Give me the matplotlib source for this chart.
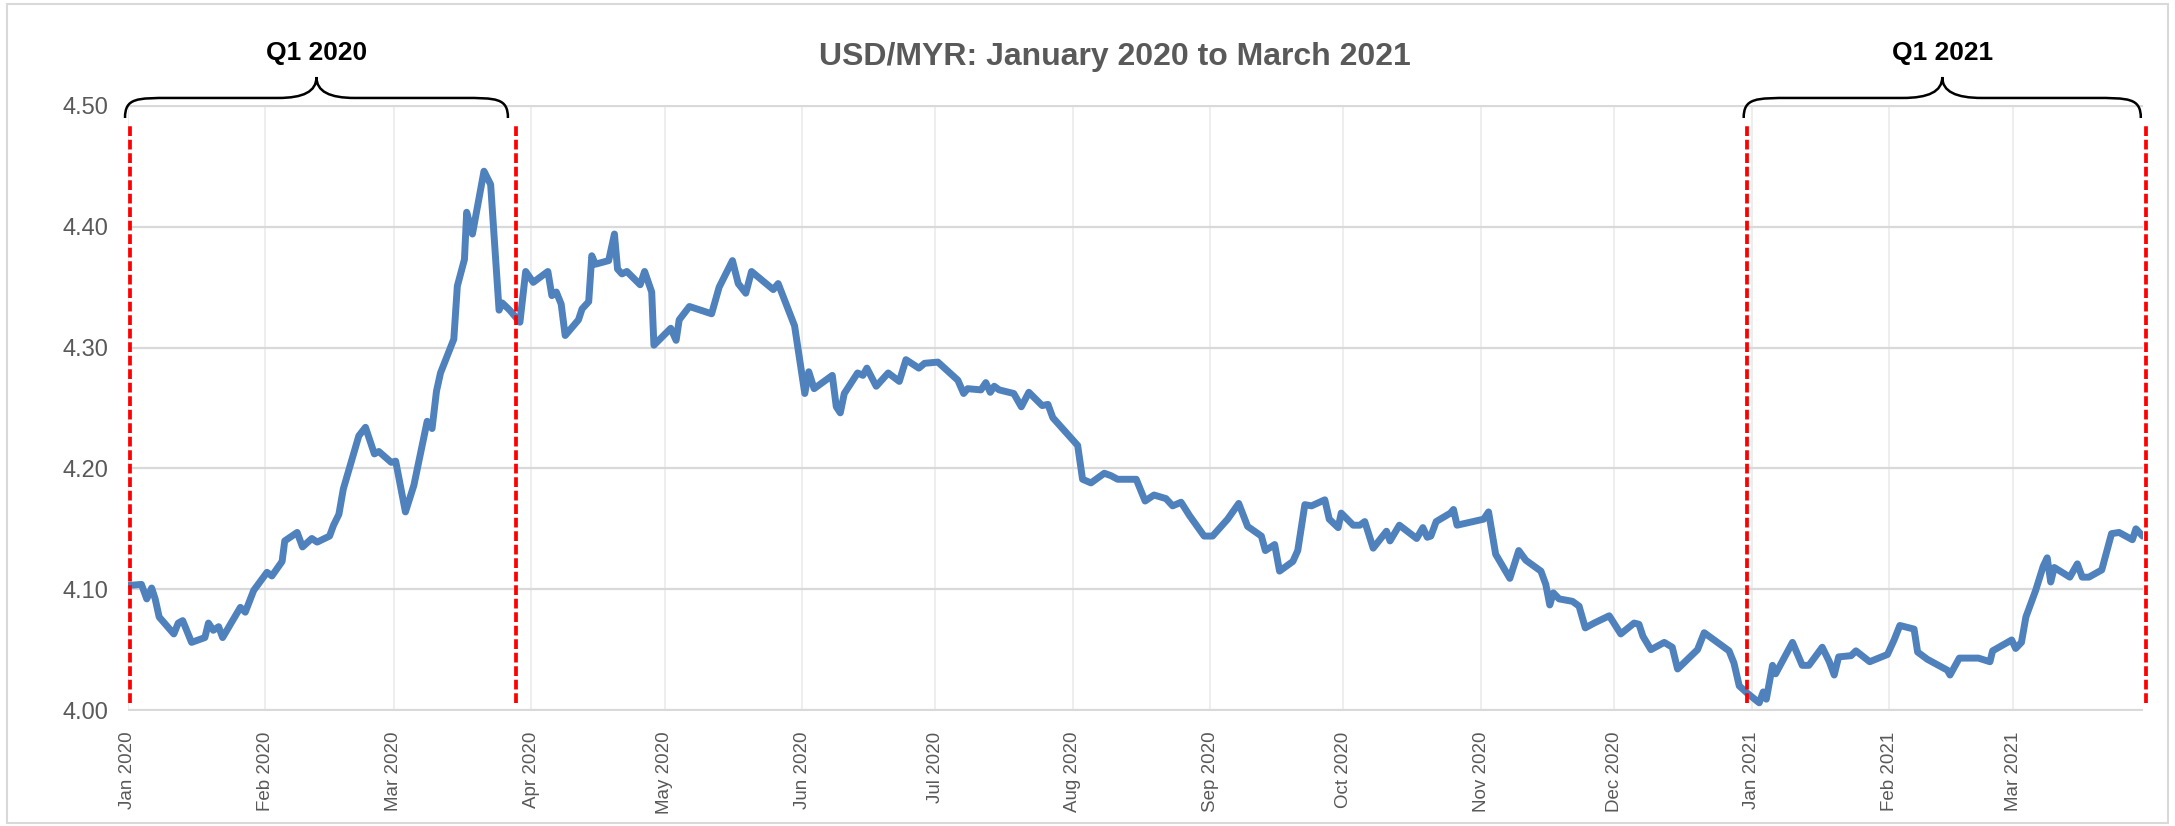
import numpy as np
import matplotlib
matplotlib.use("Agg")
import matplotlib.pyplot as plt
import matplotlib.dates as mdates
import matplotlib.transforms as mtransforms
from matplotlib.path import Path
from matplotlib.patches import PathPatch, Rectangle

# USD/MYR rate: days since 2020-01-01 and rate
day = [0.0, 3.1, 4.3, 5.4, 6.2, 7.1, 10.4, 11.4, 12.4, 14.4, 17.4, 18.2, 19.3, 20.5, 21.4,
       25.4, 26.5, 28.4, 31.4, 32.5, 34.8, 35.4, 38.2, 39.4, 41.5, 42.7, 45.5, 46.4, 47.6,
       48.6, 50.2, 52.1, 53.6, 55.6, 56.6, 59.4, 60.4, 62.6, 64.5, 67.5, 68.6, 69.6, 70.5,
       73.5, 74.3, 75.9, 76.4, 77.7, 80.3, 81.8, 83.7, 84.4, 86.1, 88.4, 89.7, 91.4, 94.7,
       95.6, 96.6, 97.7, 98.6, 101.6, 102.4, 103.9, 104.6, 105.4, 108.4, 109.7, 110.4,
       111.4, 112.5, 115.5, 116.5, 118.1, 118.6, 122.4, 123.6, 124.3, 126.6, 131.6, 133.3,
       136.3, 137.6, 139.3, 140.6, 145.5, 146.6, 150.3, 152.6, 153.5, 154.7, 158.8, 159.7,
       160.6, 161.5, 164.5, 165.7, 166.6, 168.7, 171.4, 173.9, 175.4, 178.3, 179.6, 182.6,
       187.1, 188.4, 189.3, 192.3, 193.4, 194.4, 195.3, 196.4, 199.7, 201.4, 203.1, 206.1,
       207.4, 208.5, 214.1, 215.2, 217.1, 220.1, 221.6, 223.1, 227.3, 229.3, 231.3, 234.0,
       235.5, 237.4, 239.3, 242.6, 244.5, 247.9, 250.4, 252.4, 255.5, 256.4, 258.5, 259.6,
       262.6, 263.7, 265.3, 266.8, 269.8, 270.8, 272.8, 273.5, 276.2, 277.7, 278.8, 280.7,
       283.7, 284.5, 286.6, 290.5, 291.9, 292.9, 293.7, 294.9, 298.1, 298.8, 299.6, 305.6,
       306.7, 308.3, 311.5, 313.5, 315.1, 318.5, 319.6, 320.5, 321.3, 322.6, 325.6, 327.1,
       328.5, 330.5, 333.9, 336.5, 339.5, 340.6, 341.5, 343.3, 346.3, 348.1, 349.3, 353.8,
       355.3, 360.9, 362.0, 363.2, 365.0, 367.7, 368.6, 369.3, 370.7, 371.4, 375.2, 377.4,
       378.9, 381.9, 383.5, 384.6, 385.6, 388.4, 389.5, 392.6, 396.6, 398.1, 399.4, 402.6,
       403.4, 405.6, 410.1, 410.7, 412.8, 417.1, 419.7, 420.3, 424.6, 425.5, 426.8, 427.8,
       430.0, 431.7, 432.6, 433.4, 434.2, 437.7, 439.4, 440.5, 442.0, 444.9, 447.1, 448.8,
       451.8, 452.6, 454.1]
rate = [4.103, 4.104, 4.092, 4.101, 4.092, 4.077, 4.063, 4.072, 4.074, 4.056, 4.060, 4.072,
        4.066, 4.069, 4.060, 4.085, 4.081, 4.099, 4.114, 4.111, 4.123, 4.140, 4.147, 4.135,
        4.142, 4.139, 4.144, 4.153, 4.162, 4.183, 4.203, 4.227, 4.234, 4.212, 4.214, 4.205,
        4.206, 4.164, 4.186, 4.239, 4.233, 4.264, 4.279, 4.307, 4.351, 4.373, 4.412, 4.394,
        4.446, 4.435, 4.331, 4.337, 4.331, 4.321, 4.363, 4.354, 4.363, 4.343, 4.346, 4.336,
        4.310, 4.323, 4.332, 4.338, 4.376, 4.369, 4.372, 4.394, 4.365, 4.361, 4.363, 4.352,
        4.363, 4.346, 4.302, 4.316, 4.306, 4.323, 4.334, 4.328, 4.350, 4.372, 4.353, 4.345,
        4.363, 4.348, 4.353, 4.318, 4.262, 4.280, 4.266, 4.277, 4.251, 4.246, 4.262, 4.279,
        4.277, 4.283, 4.268, 4.279, 4.272, 4.290, 4.283, 4.287, 4.288, 4.273, 4.262, 4.266,
        4.265, 4.271, 4.263, 4.268, 4.265, 4.262, 4.251, 4.263, 4.252, 4.253, 4.242, 4.219,
        4.191, 4.188, 4.196, 4.194, 4.191, 4.191, 4.173, 4.178, 4.175, 4.169, 4.172, 4.161,
        4.144, 4.144, 4.158, 4.171, 4.152, 4.144, 4.132, 4.137, 4.115, 4.123, 4.132, 4.170,
        4.169, 4.174, 4.158, 4.151, 4.163, 4.153, 4.153, 4.156, 4.134, 4.148, 4.140, 4.153,
        4.142, 4.151, 4.143, 4.144, 4.156, 4.163, 4.166, 4.153, 4.158, 4.164, 4.129, 4.109,
        4.132, 4.124, 4.115, 4.104, 4.087, 4.097, 4.092, 4.090, 4.086, 4.068, 4.072, 4.078,
        4.063, 4.072, 4.071, 4.061, 4.050, 4.056, 4.052, 4.034, 4.050, 4.064, 4.049, 4.039,
        4.020, 4.014, 4.006, 4.015, 4.009, 4.037, 4.030, 4.056, 4.037, 4.037, 4.052, 4.040,
        4.029, 4.044, 4.045, 4.049, 4.040, 4.046, 4.058, 4.070, 4.067, 4.048, 4.042, 4.033,
        4.029, 4.043, 4.043, 4.040, 4.049, 4.058, 4.051, 4.056, 4.077, 4.099, 4.119, 4.126,
        4.106, 4.118, 4.110, 4.121, 4.110, 4.110, 4.116, 4.146, 4.147, 4.141, 4.150, 4.144]

# quarter markers (days since start)
quarter_lines = [0.6, 87.6, 365.0, 454.8]
brace_start = [-0.6, 364.2]
brace_end = [85.7, 453.7]
brace_labels = ["Q1 2020", "Q1 2021"]

title = "USD/MYR: January 2020 to March 2021"
grey = "#595959"

plt.rcParams["font.family"] = ["Liberation Sans", "DejaVu Sans"]

t0 = mdates.date2num(np.datetime64("2020-01-01"))
x = t0 + np.array(day)

fig = plt.figure(figsize=(21.75, 8.26), dpi=100)
ax = fig.add_axes([0.0587, 0.1392, 0.9266, 0.7337])

ax.plot(x, rate, color="#4f81bd", lw=5.0, solid_joinstyle="round", solid_capstyle="round", zorder=3)

for d in quarter_lines:
    ax.plot([t0 + d, t0 + d], [4.006, 4.485], color="#ff0000", lw=2.7,
            dashes=(2.6, 1.0), clip_on=False, zorder=4)

ax.set_xlim(t0, t0 + 454.2)
ax.set_ylim(3.9992, 4.5008)
ax.set_yticks(np.arange(4.0, 4.51, 0.1))
ax.yaxis.set_major_formatter(plt.FuncFormatter(lambda v, p: f"{v:.2f}"))
ax.xaxis.set_major_locator(mdates.MonthLocator())
ax.xaxis.set_major_formatter(mdates.DateFormatter("%b %Y"))

ax.set_axisbelow(True)
ax.yaxis.grid(True, color="#d9d9d9", lw=1.6)
ax.xaxis.grid(True, color="#ebebeb", lw=1.2)
for s in ax.spines.values():
    s.set_visible(False)
ax.tick_params(axis="both", length=0, colors=grey)
ax.tick_params(axis="y", labelsize=17, pad=14)
ax.tick_params(axis="x", labelsize=13.5, pad=15, labelrotation=90)
for lab in ax.get_xticklabels():
    lab.set_ha("center")
    lab.set_va("top")

# braces over the quarters
trans = mtransforms.blended_transform_factory(ax.transData, ax.transAxes)
y_end, y_flat, y_tip = 0.9785, 1.0116, 1.0462
for a, b, lab in zip(brace_start, brace_end, brace_labels):
    a, b = t0 + a, t0 + b
    w = b - a
    m = a + w / 2
    verts = [
        (a, y_end),
        (a, y_flat), (a + 0.03 * w, y_flat), (a + 0.12 * w, y_flat),
        (m - 0.10 * w, y_flat),
        (m - 0.035 * w, y_flat), (m, y_flat + 0.3 * (y_tip - y_flat)), (m, y_tip),
        (m, y_flat + 0.3 * (y_tip - y_flat)), (m + 0.035 * w, y_flat), (m + 0.10 * w, y_flat),
        (b - 0.12 * w, y_flat),
        (b - 0.03 * w, y_flat), (b, y_flat), (b, y_end),
    ]
    codes = [Path.MOVETO,
             Path.CURVE4, Path.CURVE4, Path.CURVE4,
             Path.LINETO,
             Path.CURVE4, Path.CURVE4, Path.CURVE4,
             Path.CURVE4, Path.CURVE4, Path.CURVE4,
             Path.LINETO,
             Path.CURVE4, Path.CURVE4, Path.CURVE4]
    ax.add_patch(PathPatch(Path(verts, codes), transform=trans, fill=False,
                           lw=1.8, ec="black", clip_on=False))
    ax.text(m, 1.0858, lab, transform=trans, ha="center", va="center",
            fontsize=19, fontweight="bold", color="black")

fig.text(0.5127, 0.931, title, ha="center", va="center", fontsize=23,
         fontweight="bold", color=grey)

fig.patches.append(Rectangle((0.003, 0.004), 0.994, 0.991, transform=fig.transFigure,
                             fill=False, ec="#d9d9d9", lw=1.5))

fig.savefig("out.png", dpi=100, facecolor="white")
